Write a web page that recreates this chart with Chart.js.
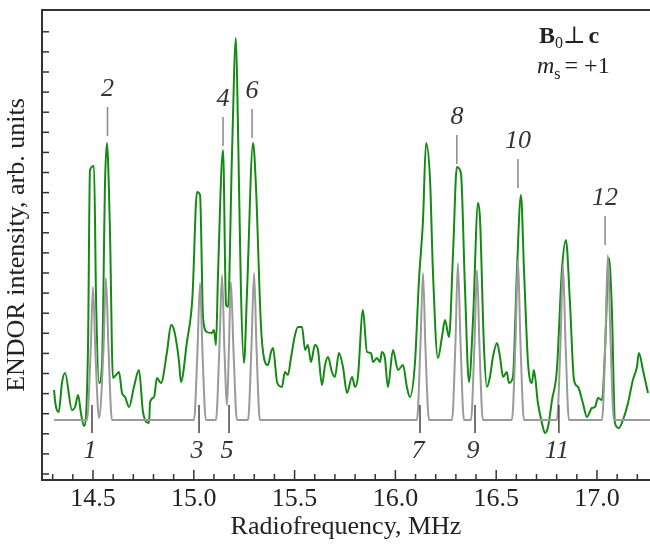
<!DOCTYPE html>
<html>
<head>
<meta charset="utf-8">
<script src="https://cdn.jsdelivr.net/npm/chart.js@4.4.1/dist/chart.umd.min.js"></script>
<style>
  html, body { margin: 0; padding: 0; background: #fff; }
  #wrap { width: 650px; height: 544px; }
</style>
</head>
<body>
<div id="wrap"><canvas id="endor"></canvas></div>
<script>
// Measured ENDOR spectrum (green), MHz / arb. units
const expFreq = [
  14.307, 14.313, 14.330, 14.346, 14.361, 14.396, 14.411, 14.426, 14.440, 14.455,
  14.475, 14.485, 14.505, 14.515, 14.530, 14.545, 14.560, 14.569, 14.584, 14.599,
  14.614, 14.629, 14.644, 14.659, 14.679, 14.703, 14.728, 14.748, 14.778, 14.783,
  14.803, 14.817, 14.837, 14.867, 14.887, 14.902, 14.927, 14.936, 14.966, 14.993,
  15.016, 15.031, 15.046, 15.065, 15.090, 15.100, 15.110, 15.120, 15.145, 15.160,
  15.170, 15.189, 15.209, 15.219, 15.234, 15.249, 15.264, 15.294, 15.308, 15.333,
  15.348, 15.368, 15.383, 15.393, 15.413, 15.437, 15.452, 15.467, 15.482, 15.502,
  15.517, 15.537, 15.552, 15.566, 15.581, 15.601, 15.616, 15.636, 15.651, 15.666,
  15.685, 15.700, 15.720, 15.740, 15.760, 15.785, 15.800, 15.814, 15.839, 15.859,
  15.879, 15.889, 15.909, 15.924, 15.933, 15.948, 15.963, 15.988, 16.013, 16.038,
  16.057, 16.072, 16.097, 16.117, 16.137, 16.152, 16.172, 16.186, 16.211, 16.231,
  16.246, 16.266, 16.286, 16.305, 16.325, 16.345, 16.365, 16.385, 16.410, 16.420,
  16.439, 16.454, 16.469, 16.484, 16.504, 16.519, 16.534, 16.553, 16.563, 16.583,
  16.603, 16.623, 16.638, 16.658, 16.677, 16.687, 16.707, 16.727, 16.742, 16.757,
  16.777, 16.801, 16.826, 16.846, 16.866, 16.886, 16.906, 16.930, 16.950, 16.975,
  16.990, 17.005, 17.025, 17.040, 17.059, 17.074, 17.089, 17.109, 17.129, 17.154,
  17.178, 17.198, 17.208, 17.228, 17.253
];
const expIntensity = [
  90, 77, 68, 97, 107, 70, 73, 85, 67, 54,
  130, 310, 314, 183, 97, 117, 300, 337, 250, 102,
  105, 108, 87, 83, 73, 93, 110, 68, 57, 78,
  83, 102, 97, 128, 155, 150, 118, 98, 138, 182,
  288, 285, 162, 148, 147, 150, 135, 205, 330, 175,
  173, 322, 442, 355, 188, 117, 188, 337, 295, 155,
  122, 115, 128, 132, 98, 93, 108, 105, 122, 145,
  153, 153, 130, 135, 118, 135, 130, 95, 115, 123,
  108, 103, 127, 113, 87, 103, 93, 103, 170, 128,
  127, 118, 122, 118, 128, 122, 93, 130, 110, 115,
  93, 83, 117, 200, 260, 337, 300, 210, 122, 143,
  160, 143, 227, 313, 307, 193, 98, 160, 277, 260,
  135, 93, 103, 123, 137, 123, 103, 108, 97, 103,
  210, 285, 210, 117, 97, 110, 77, 57, 47, 53,
  80, 110, 210, 240, 177, 100, 93, 77, 63, 72,
  73, 82, 80, 130, 222, 170, 57, 52, 60, 77,
  100, 113, 127, 110, 87
];

// Simulated spectrum (grey)
const simFreq = [
  14.307, 14.470, 14.488, 14.500, 14.512, 14.530, 14.552, 14.564, 14.577, 14.594,
  15.001, 15.018, 15.031, 15.043, 15.060,
  15.110, 15.127, 15.140, 15.152, 15.165, 15.174, 15.184, 15.197, 15.214,
  15.269, 15.286, 15.299, 15.311, 15.328,
  16.107, 16.124, 16.137, 16.149, 16.167,
  16.281, 16.298, 16.310, 16.323, 16.340,
  16.375, 16.392, 16.405, 16.417, 16.434,
  16.578, 16.596, 16.608, 16.620, 16.638,
  16.801, 16.819, 16.831, 16.844, 16.861,
  17.025, 17.042, 17.054, 17.067, 17.084,
  17.263
];
const simIntensity = [
  60, 60, 127, 193, 127, 62, 131, 202, 131, 60,
  60, 128, 197, 128, 60,
  60, 132, 205, 130, 75, 130, 198, 129, 60,
  60, 133, 207, 133, 60,
  60, 133, 207, 133, 60,
  60, 138, 217, 138, 60,
  60, 135, 210, 135, 60,
  60, 140, 220, 140, 60,
  60, 137, 215, 137, 60,
  60, 142, 225, 142, 60,
  60
];

// Line numbering: even lines marked above, odd lines below
const upperNames = ['2', '4', '6', '8', '10', '12'];
const upperFreq = [14.572, 15.145, 15.289, 16.305, 16.608, 17.040];
const upperTop = [373, 363, 371, 345, 321, 264];
const lowerNames = ['1', '3', '5', '7', '9', '11'];
const lowerFreq = [14.495, 15.026, 15.175, 16.122, 16.395, 16.811];

const xLabelTicks = [14.5, 15.0, 15.5, 16.0, 16.5, 17.0];

const SERIF = '"Liberation Serif", "DejaVu Serif", serif';

function toPoints(xs, ys) {
  return xs.map((v, i) => ({ x: v, y: ys[i] }));
}

// inward ticks, top frame line, line numbers and the field/spin note
const decorations = {
  id: 'decorations',
  afterDraw(chart) {
    const { ctx, chartArea: a, scales: { x, y } } = chart;
    ctx.save();
    ctx.strokeStyle = '#333';

    ctx.lineWidth = 2;
    ctx.beginPath();
    ctx.moveTo(a.left - 1, a.top);
    ctx.lineTo(a.right, a.top);
    ctx.stroke();

    // x ticks every 0.1 MHz, longer at 0.5
    ctx.lineWidth = 1.5;
    for (let i = 143; i <= 172; i++) {
      const px = x.getPixelForValue(i / 10);
      const len = i % 5 === 0 ? 10 : 6;
      ctx.beginPath();
      ctx.moveTo(px, a.bottom);
      ctx.lineTo(px, a.bottom - len);
      ctx.stroke();
    }
    // y ticks (no labels)
    for (let n = 0; n <= 22; n++) {
      const py = y.getPixelForValue(6 + 20.1 * n);
      ctx.beginPath();
      ctx.moveTo(a.left, py);
      ctx.lineTo(a.left + 7, py);
      ctx.stroke();
    }

    // line markers
    ctx.font = 'italic 26px ' + SERIF;
    ctx.textAlign = 'center';
    ctx.textBaseline = 'middle';
    ctx.lineWidth = 1.5;
    upperFreq.forEach((f, i) => {
      const px = x.getPixelForValue(f);
      ctx.strokeStyle = '#888';
      ctx.beginPath();
      ctx.moveTo(px, y.getPixelForValue(upperTop[i]));
      ctx.lineTo(px, y.getPixelForValue(upperTop[i] - 29));
      ctx.stroke();
      ctx.fillStyle = '#333';
      ctx.fillText(upperNames[i], px, y.getPixelForValue(upperTop[i] + 18));
    });
    lowerFreq.forEach((f, i) => {
      const px = x.getPixelForValue(f);
      ctx.strokeStyle = '#444';
      ctx.beginPath();
      ctx.moveTo(px, y.getPixelForValue(75));
      ctx.lineTo(px, y.getPixelForValue(47));
      ctx.stroke();
      ctx.fillStyle = '#333';
      ctx.fillText(lowerNames[i], px - 2, y.getPixelForValue(29));
    });

    // B0 ⊥ c / ms = +1
    ctx.fillStyle = '#222';
    ctx.textAlign = 'left';
    ctx.textBaseline = 'alphabetic';
    let tx = 539;
    ctx.font = 'bold 24px ' + SERIF;
    ctx.fillText('B', tx, 43);
    tx += ctx.measureText('B').width;
    ctx.font = '16px ' + SERIF;
    ctx.fillText('0', tx, 48);
    tx += ctx.measureText('0').width;
    ctx.font = '24px ' + SERIF;
    ctx.fillText('\u22A5', tx, 43);
    tx += ctx.measureText('\u22A5').width + 3;
    ctx.font = 'bold 24px ' + SERIF;
    ctx.fillText('c', tx, 43);

    tx = 537;
    ctx.font = 'italic 24px ' + SERIF;
    ctx.fillText('m', tx, 73);
    tx += ctx.measureText('m').width;
    ctx.font = '16px ' + SERIF;
    ctx.fillText('s', tx, 79);
    tx += ctx.measureText('s').width + 4;
    ctx.font = '24px ' + SERIF;
    ctx.fillText('= +1', tx, 73);

    ctx.restore();
  }
};

new Chart(document.getElementById('endor'), {
  type: 'line',
  data: {
    datasets: [
      {
        label: 'simulation',
        data: toPoints(simFreq, simIntensity),
        borderColor: '#9a9a9a',
        borderWidth: 2,
        pointRadius: 0,
        cubicInterpolationMode: 'monotone'
      },
      {
        label: 'ENDOR',
        data: toPoints(expFreq, expIntensity),
        borderColor: '#138a13',
        borderWidth: 2,
        pointRadius: 0,
        cubicInterpolationMode: 'monotone'
      }
    ]
  },
  options: {
    responsive: true,
    maintainAspectRatio: false,
    animation: false,
    layout: { padding: { top: 10, right: 0, left: 0, bottom: 0 } },
    plugins: {
      legend: { display: false },
      tooltip: { enabled: false }
    },
    scales: {
      x: {
        type: 'linear',
        min: 14.247,
        max: 17.263,
        afterBuildTicks: scale => {
          scale.ticks = xLabelTicks.map(v => ({ value: v }));
        },
        afterFit: scale => { scale.height = 64; },
        grid: { display: false, drawTicks: false },
        border: { display: true, color: '#333', width: 2 },
        ticks: {
          padding: 4,
          color: '#222',
          font: { family: SERIF, size: 26 },
          callback: v => v.toFixed(1)
        },
        title: {
          display: true,
          text: 'Radiofrequency, MHz',
          color: '#222',
          font: { family: SERIF, size: 26, lineHeight: 1.2 },
          padding: { top: 0, bottom: 1 }
        }
      },
      y: {
        min: 0,
        max: 470,
        afterFit: scale => { scale.width = 42; },
        grid: { display: false, drawTicks: false },
        border: { display: true, color: '#333', width: 2 },
        ticks: { display: false },
        title: {
          display: true,
          text: 'ENDOR intensity, arb. units',
          color: '#222',
          font: { family: SERIF, size: 26, lineHeight: 1.2 },
          padding: { top: 2, bottom: 0 }
        }
      }
    }
  },
  plugins: [decorations]
});
</script>
</body>
</html>
